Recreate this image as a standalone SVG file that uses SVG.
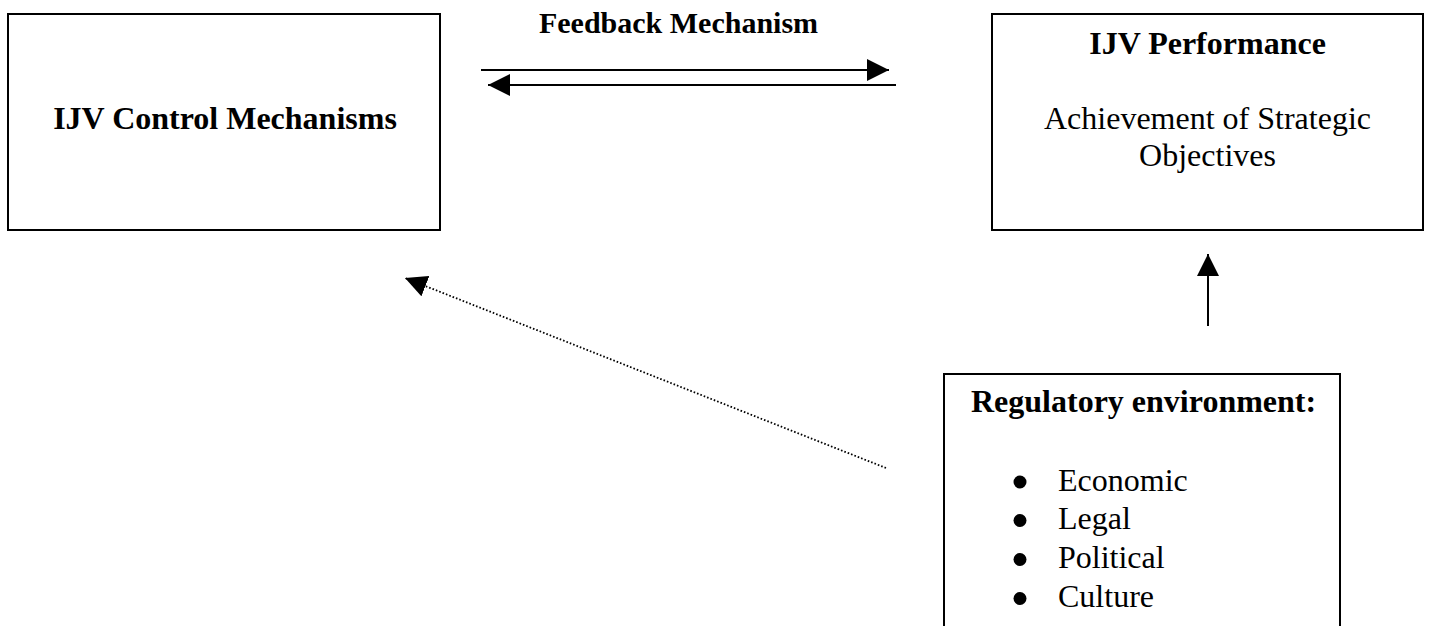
<svg xmlns="http://www.w3.org/2000/svg" width="1431" height="626" viewBox="0 0 1431 626">
<defs>
<style>
.box{fill:#fff;stroke:#000;stroke-width:2}
.b{font-family:"Liberation Serif","Times New Roman",serif;font-weight:bold;font-size:32px;fill:#000}
.r{font-family:"Liberation Serif","Times New Roman",serif;font-size:32px;fill:#000}
.ln{stroke:#000;stroke-width:2;fill:none}
.dot{stroke:#000;stroke-width:1.8;fill:none;stroke-dasharray:1.6 2}
</style>
<marker id="ah" markerUnits="userSpaceOnUse" markerWidth="22" markerHeight="22" viewBox="0 0 20 20" refX="20" refY="10" orient="auto">
<path d="M0,0 L20,10 L0,20 Z" fill="#000"/>
</marker>
</defs>
<rect width="1431" height="626" fill="#fff"/>
<g id="control">
<rect class="box" x="8" y="14" width="432" height="216"/>
<text class="b" x="225" y="129" text-anchor="middle">IJV Control Mechanisms</text>
</g>
<g id="performance">
<rect class="box" x="992" y="14" width="431" height="216"/>
<text class="b" x="1207.5" y="54" text-anchor="middle">IJV Performance</text>
<text class="r" x="1207.5" y="129" text-anchor="middle">Achievement of Strategic</text>
<text class="r" x="1207.5" y="166" text-anchor="middle">Objectives</text>
</g>
<g id="regulatory">
<rect class="box" x="944" y="374" width="396" height="270"/>
<text class="b" x="971" y="412">Regulatory environment:</text>
<circle cx="1020" cy="482" r="6.5"/>
<circle cx="1020" cy="520.5" r="6.5"/>
<circle cx="1020" cy="559.5" r="6.5"/>
<circle cx="1020" cy="598.5" r="6.5"/>
<text class="r" x="1058" y="491">Economic</text>
<text class="r" x="1058" y="529">Legal</text>
<text class="r" x="1058" y="568">Political</text>
<text class="r" x="1058" y="607">Culture</text>
</g>
<g id="feedback-label">
<text class="b" x="678.5" y="33" text-anchor="middle" style="font-size:30px">Feedback Mechanism</text>
</g>
<g id="connectors">
<line class="ln" x1="481" y1="70" x2="889" y2="70" marker-end="url(#ah)"/>
<line class="ln" x1="896" y1="85" x2="488" y2="85" marker-end="url(#ah)"/>
<line class="ln" x1="1208" y1="326" x2="1208" y2="254" marker-end="url(#ah)"/>
<line class="dot" x1="886" y1="468" x2="405" y2="278" marker-end="url(#ah)"/>
</g>
</svg>
